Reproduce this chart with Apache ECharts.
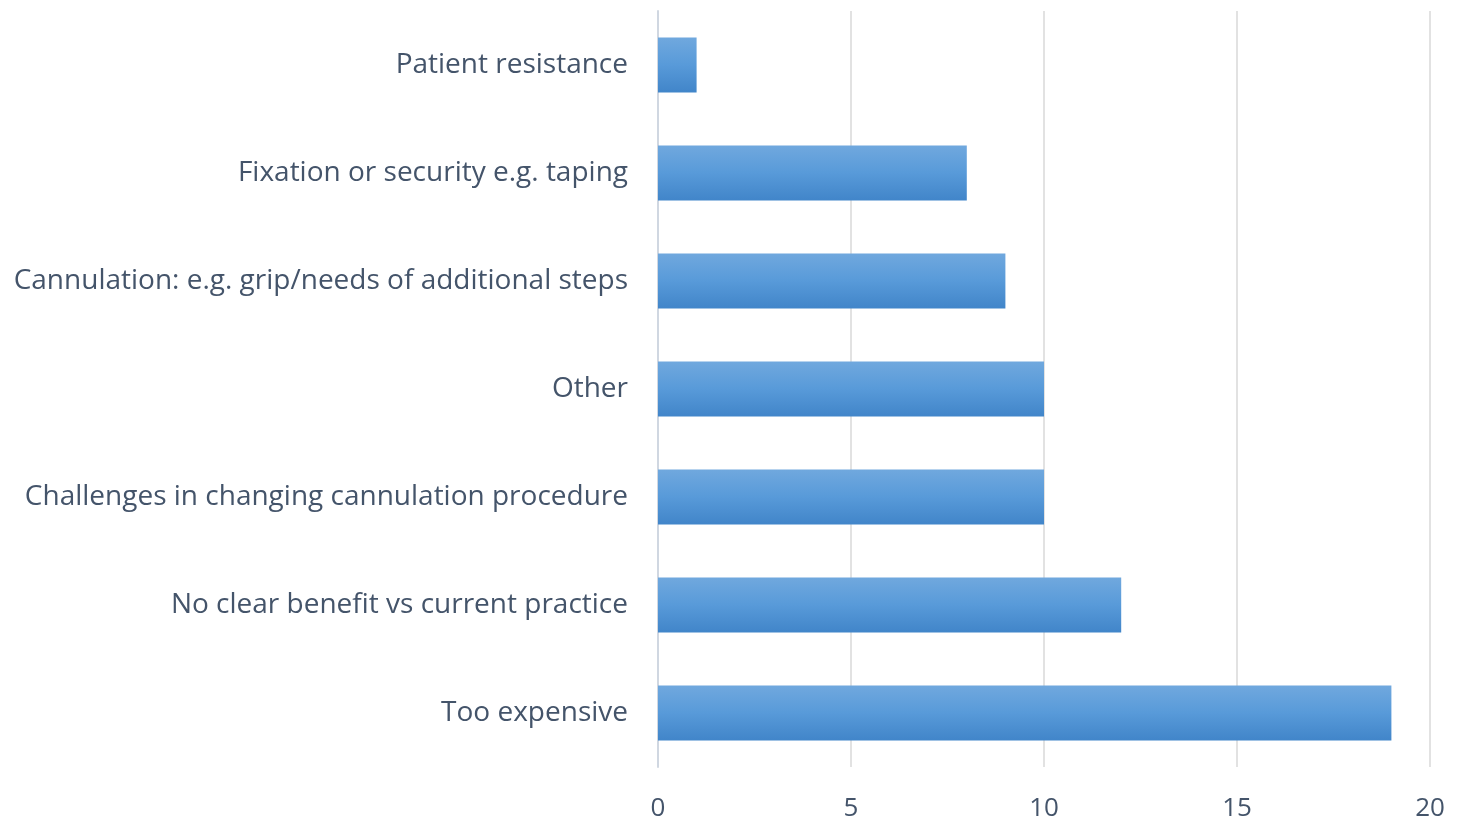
<!DOCTYPE html>
<html lang="en">

<head>
    <meta charset="UTF-8">
    <title>Barriers Bar Chart</title>
    <script src="https://cdn.jsdelivr.net/npm/echarts@6/dist/echarts.min.js"></script>
    <style>
        html, body { margin: 0; padding: 0; background: #fff; }
    </style>
</head>

<body>
    <div id="chart" style="width: 1460px; height: 821px;"></div>
    <script>
        // categories, bottom to top
        const categories = [
            'Too expensive',
            'No clear benefit vs current practice',
            'Challenges in changing cannulation procedure',
            'Other',
            'Cannulation: e.g. grip/needs of additional steps',
            'Fixation or security e.g. taping',
            'Patient resistance'
        ];
        const counts = [19, 12, 10, 10, 9, 8, 1];
        const xTicks = [0, 5, 10, 15, 20];

        const textColor = '#44546a';
        const fontFamily = '"Open Sans", "Noto Sans", sans-serif';

        let myChart = echarts.init(document.getElementById('chart'));

        let option = {
            animation: false,
            grid: {
                left: 658,
                right: 30,
                top: 11,
                bottom: 54,
                containLabel: false,
                outerBoundsMode: 'none'
            },
            xAxis: {
                type: 'value',
                min: xTicks[0],
                max: xTicks[xTicks.length - 1],
                interval: 5,
                axisLine: { show: false },
                axisTick: { show: false },
                axisLabel: {
                    color: textColor,
                    fontSize: 26,
                    fontFamily: fontFamily,
                    margin: 29
                },
                splitLine: {
                    lineStyle: { color: '#d9d9d9', width: 1.5 }
                }
            },
            yAxis: {
                type: 'category',
                data: categories,
                axisLine: {
                    lineStyle: { color: '#d0d7e1', width: 2 }
                },
                axisTick: {
                    length: 9,
                    lineStyle: { color: '#d0d7e1', width: 2 }
                },
                axisLabel: {
                    color: textColor,
                    fontSize: 28,
                    fontFamily: fontFamily,
                    margin: 30
                }
            },
            series: [
                {
                    type: 'bar',
                    data: counts,
                    barCategoryGap: '49%',
                    itemStyle: {
                        color: new echarts.graphic.LinearGradient(0, 0, 0, 1, [
                            { offset: 0, color: '#70a8de' },
                            { offset: 0.5, color: '#589ad9' },
                            { offset: 1, color: '#4185c9' }
                        ])
                    }
                }
            ]
        };

        myChart.setOption(option);
    </script>
</body>

</html>
